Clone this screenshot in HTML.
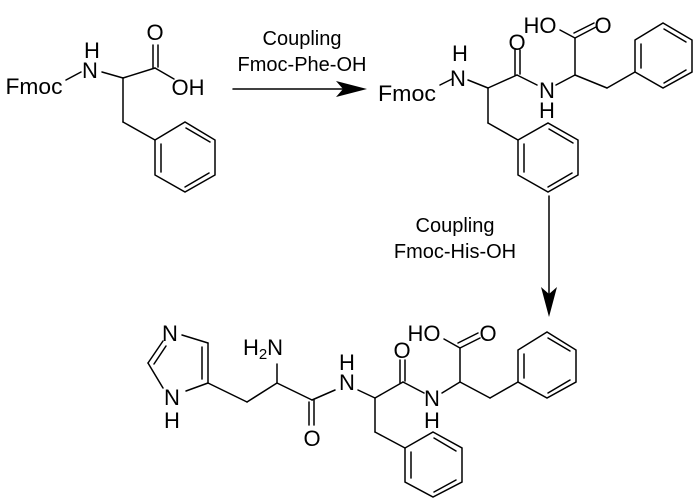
<!DOCTYPE html>
<html><head><meta charset="utf-8"><style>
html,body{margin:0;padding:0;background:#fff}
svg{display:block}
text{font-family:"Liberation Sans",Arial,sans-serif;fill:#000}
</style></head><body>
<svg width="700" height="504" viewBox="0 0 700 504" xmlns="http://www.w3.org/2000/svg">
<g stroke="#000" stroke-width="1.5" fill="none" stroke-linecap="round">
<line x1="66" y1="80" x2="81" y2="72"/>
<line x1="102" y1="72" x2="123" y2="78"/>
<line x1="123" y1="78" x2="155" y2="68"/>
<line x1="153" y1="45" x2="153" y2="68"/>
<line x1="158" y1="45" x2="158" y2="67"/>
<line x1="155" y1="68" x2="174" y2="79"/>
<line x1="123" y1="78" x2="123" y2="122"/>
<line x1="123" y1="122" x2="155" y2="140"/>
<polygon points="155,140 185,122 215,140 215,175 185,192 155,175"/>
<line x1="161" y1="144" x2="161" y2="172"/>
<line x1="186" y1="128" x2="210" y2="142"/>
<line x1="209" y1="173" x2="185" y2="187"/>
<line x1="233" y1="89" x2="345" y2="89"/>
<line x1="440" y1="85" x2="452" y2="79"/>
<line x1="468" y1="80" x2="488" y2="88"/>
<line x1="488" y1="88" x2="517" y2="75"/>
<line x1="515" y1="50" x2="515" y2="75"/>
<line x1="520" y1="50" x2="520" y2="74"/>
<line x1="517" y1="75" x2="537" y2="85"/>
<line x1="556" y1="85" x2="575" y2="75"/>
<line x1="575" y1="75" x2="575" y2="38"/>
<line x1="575" y1="38" x2="560" y2="30"/>
<line x1="575" y1="38" x2="596" y2="27"/>
<line x1="574" y1="33" x2="594" y2="23"/>
<line x1="575" y1="75" x2="607" y2="88"/>
<line x1="607" y1="88" x2="635" y2="72"/>
<polygon points="635,72 635,40 663,23 692,40 692,72 663,88"/>
<line x1="641" y1="68" x2="641" y2="44"/>
<line x1="664" y1="29" x2="686" y2="42"/>
<line x1="686" y1="70" x2="664" y2="83"/>
<line x1="488" y1="88" x2="488" y2="123"/>
<line x1="488" y1="123" x2="518" y2="140"/>
<polygon points="518,140 548,123 578,140 578,175 548,192 518,175"/>
<line x1="524" y1="144" x2="524" y2="172"/>
<line x1="549" y1="129" x2="573" y2="143"/>
<line x1="572" y1="173" x2="548" y2="187"/>
<line x1="549" y1="196" x2="549" y2="295"/>
<line x1="182" y1="335" x2="208" y2="343"/>
<line x1="208" y1="343" x2="208" y2="383"/>
<line x1="202" y1="347" x2="202" y2="379"/>
<line x1="208" y1="383" x2="186" y2="391"/>
<line x1="148" y1="363" x2="163" y2="388"/>
<line x1="148" y1="363" x2="163" y2="341"/>
<line x1="154" y1="364" x2="166" y2="346"/>
<line x1="208" y1="383" x2="247" y2="402"/>
<line x1="247" y1="402" x2="277" y2="383"/>
<line x1="277" y1="383" x2="277" y2="364"/>
<line x1="277" y1="383" x2="312" y2="400"/>
<line x1="309" y1="402" x2="309" y2="425"/>
<line x1="314" y1="400" x2="314" y2="425"/>
<line x1="312" y1="400" x2="335" y2="390"/>
<line x1="358" y1="390" x2="375" y2="398"/>
<line x1="375" y1="398" x2="403" y2="382"/>
<line x1="400" y1="360" x2="400" y2="383"/>
<line x1="405" y1="360" x2="405" y2="381"/>
<line x1="403" y1="382" x2="424" y2="393"/>
<line x1="375" y1="398" x2="375" y2="432"/>
<line x1="375" y1="432" x2="405" y2="448"/>
<polygon points="433,432 462,448 462,482 433,497 405,482 405,448"/>
<line x1="411" y1="452" x2="411" y2="478"/>
<line x1="434" y1="438" x2="456" y2="451"/>
<line x1="456" y1="480" x2="434" y2="492"/>
<line x1="442" y1="393" x2="460" y2="382"/>
<line x1="460" y1="382" x2="460" y2="348"/>
<line x1="460" y1="348" x2="444" y2="339"/>
<line x1="460" y1="348" x2="480" y2="338"/>
<line x1="458" y1="343" x2="478" y2="333"/>
<line x1="460" y1="382" x2="490" y2="398"/>
<line x1="490" y1="398" x2="518" y2="382"/>
<polygon points="518,382 518,350 547,332 576,350 576,382 547,398"/>
<line x1="524" y1="378" x2="524" y2="354"/>
<line x1="548" y1="338" x2="570" y2="351"/>
<line x1="570" y1="380" x2="548" y2="393"/>
</g>
<polygon points="367,89 336,81 343,89 336,97" fill="#000"/>
<polygon points="549,317 541,287 549,294 557,287" fill="#000"/>
<g font-size="22" text-anchor="middle">
<text x="34" y="94" textLength="57" lengthAdjust="spacingAndGlyphs">Fmoc</text>
<text x="90" y="78">N</text>
<text x="92" y="58">H</text>
<text x="155" y="40">O</text>
<text x="188" y="95">OH</text>
<text x="407" y="101" textLength="58" lengthAdjust="spacingAndGlyphs">Fmoc</text>
<text x="458" y="86">N</text>
<text x="460" y="61">H</text>
<text x="517" y="50">O</text>
<text x="540" y="33">HO</text>
<text x="603" y="33">O</text>
<text x="547" y="98">N</text>
<text x="547" y="118">H</text>
<text x="170" y="341">N</text>
<text x="172" y="405">N</text>
<text x="172" y="428">H</text>
<text x="263" y="355">H<tspan font-size="15" dy="4">2</tspan><tspan dy="-4">N</tspan></text>
<text x="312" y="446">O</text>
<text x="347" y="390">N</text>
<text x="347" y="370">H</text>
<text x="402" y="358">O</text>
<text x="424" y="341">HO</text>
<text x="488" y="341">O</text>
<text x="432" y="406">N</text>
<text x="432" y="428">H</text>
</g>
<g font-size="20" text-anchor="middle">
<text x="302" y="45">Coupling</text>
<text x="302" y="71">Fmoc-Phe-OH</text>
<text x="455" y="232">Coupling</text>
<text x="455" y="258">Fmoc-His-OH</text>
</g>
</svg>
</body></html>
